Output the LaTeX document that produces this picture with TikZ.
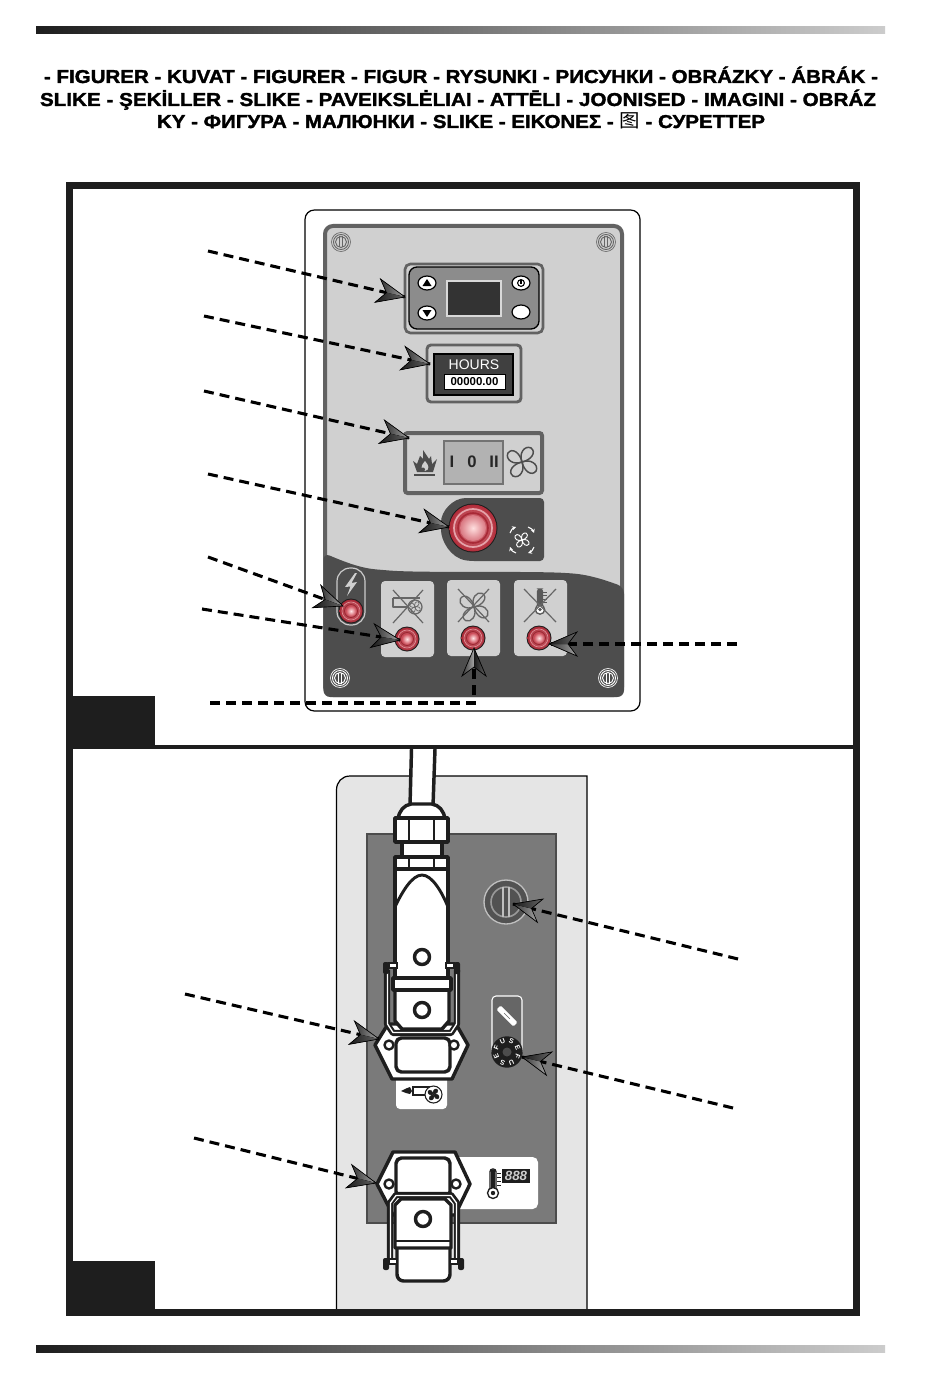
\documentclass[tikz,border=0pt]{standalone}
\usepackage{fontspec}
\usetikzlibrary{calc,arrows.meta}
\setmainfont{Liberation Sans}
\newfontfamily\hdfont{Liberation Sans}[UprightFont=* Bold,UprightFeatures={FakeBold=1.6}]
\newfontfamily\cjk{Noto Sans CJK SC}
\definecolor{frameblk}{HTML}{1E1E1E}
\definecolor{paneldark}{HTML}{4D4D4D}
\definecolor{panellight}{HTML}{D0D0D0}
\definecolor{bezel}{HTML}{626262}
\definecolor{ledred}{HTML}{C5303F}
\definecolor{plate}{HTML}{7A7A7A}
\tikzset{
  leader/.style={black,line width=2.3pt,dash pattern=on 7.5pt off 4.5pt},
  conn/.style={draw=frameblk,line width=2.6pt,fill=white,line join=round},
  icon/.style={draw=#1,line width=.9pt,line join=round},
  headpic/.pic={
    \fill[left color=black!80,right color=black!35] (0,0)--(-28,-12)--(-19,0)--cycle;
    \fill[left color=black!90,right color=black!60] (0,0)--(-28,12)--(-19,0)--cycle;
    \draw[black,line width=.5pt,solid,line join=miter] (0,0)--(-28,-12)--(-19,0)--(-28,12)--cycle;
  },
  led/.pic={
    \fill[frameblk] (0,0) circle (12.5);
    \shade[inner color=ledred!60!white,outer color=ledred!85!black] (0,0) circle (11.5);
    \draw[ledred!55!white,line width=.5pt] (0,0) circle (9);
    \draw[ledred!80!black,line width=.7pt] (0,0) circle (6.5);
    \shade[inner color=white!60!pink,outer color=ledred!90!white] (0,0) circle (5.5);
  },
  screw/.pic={
    \draw[#1,line width=.5pt,fill=none] (0,0) circle (9.5);
    \draw[#1,line width=.7pt,fill=none] (0,0) circle (7.5);
    \draw[#1,line width=.7pt,fill=none] (0,0) circle (5.5);
    \draw[#1,line width=.6pt] (-1.5,-5.5)--(-1.5,5.5) (1.5,-5.5)--(1.5,5.5);
  },
  fanicon/.pic={
    \foreach \a in {45,135,225,315}{
      \path[rotate=\a,pic actions] (0,0) .. controls (3,-7) and (11,-8) .. (13,-3)
        .. controls (14,3) and (6,4) .. (0,0);
    }
  },
  thermo/.pic={
    \draw[#1,line width=1pt,fill=white,rounded corners=2pt] (-3,-14) rectangle (3,8);
    \fill[#1] (-2,-13) rectangle (2,6);
    \draw[#1,line width=1pt,fill=white] (0,10) circle (5.5);
    \fill[#1] (0,10) circle (2.2);
    \foreach \k in {-10,-6,-2,2}{\draw[#1,line width=.7pt] (4,\k)--(8,\k);}
  },
  clip/.pic={
    \fill[frameblk,rounded corners=1.5pt] (-3,-6) rectangle (3,6);
    \draw[frameblk,fill=white,line width=.8pt] (3,-5) rectangle (11,0);
  }
}
\newcommand\lead[2]{%
  \draw[leader] (#1) -- (#2);
  \path (#1) -- (#2) pic[pos=1,sloped,allow upside down]{headpic};}
\begin{document}
\begin{tikzpicture}[x=.75pt,y=-.75pt]
\useasboundingbox (0,0) rectangle (950,1373);
\fill[white] (0,0) rectangle (950,1373);
% top / bottom bars
\shade[left color=frameblk,right color=black!20] (36,27) rectangle (885,34);
\shade[left color=frameblk,right color=black!20] (36,1345) rectangle (885,1352);
% heading
\node[anchor=base,inner sep=0pt] (h1) at (461,83) {\fontsize{14}{15}\selectfont\resizebox{625.5pt}{\height}{\hdfont - FIGURER - KUVAT - FIGURER - FIGUR - RYSUNKI - РИСУНКИ - OBRÁZKY - ÁBRÁK -}};
\node[anchor=base,inner sep=0pt] (h2) at (458,106) {\fontsize{14}{15}\selectfont\resizebox{627pt}{\height}{\hdfont SLIKE - ŞEKİLLER - SLIKE - PAVEIKSLĖLIAI - ATTĒLI - JOONISED - IMAGINI - OBRÁZ}};
\node[anchor=base,inner sep=0pt] (h3) at (461,128) {\fontsize{14}{15}\selectfont\resizebox{456pt}{\height}{\hdfont KY - ФИГУРА - МАЛЮНКИ - SLIKE - ΕΙΚΟΝΕΣ - {\cjk 图} - СУРЕТТЕР}};

% ---------- lower plate (drawn before frame) ----------
\draw[black,line width=.9pt,fill=black!10] (336.5,1312) -- (336.5,790) .. controls (336.5,782) and (342,776) .. (350,776) -- (587,776) -- (587,1312);
\draw[black!70,line width=.9pt,fill=plate] (367,834) rectangle (556,1223);

% ---------- frame ----------
\draw[frameblk,line width=5.2pt] (69.5,185.5) rectangle (856.5,1312.5);
\fill[frameblk] (66,745) rectangle (860,749);
\fill[frameblk] (73,696) rectangle (155,745);
\fill[frameblk] (73,1261) rectangle (155,1309);

% ---------- upper panel ----------
\draw[black,line width=.9pt,fill=white,rounded corners=7pt] (305,210) rectangle (640,711);
\draw[bezel,line width=3pt,fill=panellight,rounded corners=6pt] (325,226) rectangle (622,695);
\fill[paneldark,rounded corners=5pt] (323.5,553) .. controls (345,562) and (360,568) .. (383,570)
   .. controls (420,573) and (520,571) .. (567,573) .. controls (590,575) and (605,580) .. (624,587)
   -- (624,697) -- (323.5,697) -- cycle;
\pic at (341,242) {screw=black!60};
\pic at (606,242) {screw=black!60};
\pic at (340,678) {screw=white};
\pic at (608,678) {screw=white};

% thermostat
\draw[bezel,line width=2pt,fill=panellight,rounded corners=4pt] (405,264) rectangle (543,333);
\draw[black,line width=1pt,fill=black!45,rounded corners=6pt] (409,267) rectangle (539,329);
\draw[white!85!black,line width=1pt,fill=black!80] (447,281) rectangle (501,316);
\foreach \bx/\by in {427/283,427/313,521/283,521/312}{
  \draw[black,line width=.9pt,fill=white] (\bx,\by) ellipse (9 and 7);}
\fill[black] (427,279) -- (431.5,286) -- (422.5,286) -- cycle;
\fill[black] (427,317) -- (431.5,310) -- (422.5,310) -- cycle;
\draw[black,line width=.8pt] (521,283) circle (3.4);
\draw[black,line width=.9pt] (521,279.5) -- (521,284);

% hours counter
\draw[bezel,line width=2.2pt,fill=panellight,rounded corners=3pt] (427,345) rectangle (521,402);
\draw[black,line width=.8pt,fill=black!75] (434,354) rectangle (513,395);
\node[white,font=\fontsize{10.5}{12}\selectfont,inner sep=0pt] (hrs) at (474,365) {HOURS};
\node[draw=black,fill=white,line width=.5pt,inner sep=0pt,minimum width=45.5pt,minimum height=11pt,font=\fontsize{8.6}{10}\bfseries\selectfont] (cnt) at (474.5,381.5) {00000.00};

% selector switch
\draw[bezel,line width=3pt,fill=panellight,rounded corners=2pt] (405,433) rectangle (542,493);
\draw[black!55,line width=.9pt,fill=black!30] (444,441) rectangle (503,484);
\node[inner sep=0pt,font=\fontsize{12.5}{13}\bfseries\selectfont,text=black!85] (sw1) at (452,462) {I};
\node[inner sep=0pt,font=\fontsize{12.5}{13}\bfseries\selectfont,text=black!85] (sw0) at (472,462) {0};
\node[inner sep=0pt,font=\fontsize{12.5}{13}\bfseries\selectfont,text=black!85] (sw2) at (494,462) {II};
\fill[paneldark] (417,472) -- (413,461) -- (417,464) -- (420,456) -- (423,459) -- (423,450) -- (429,459) -- (431,456) -- (432,464) -- (437,459) -- (433,472) -- cycle;
\fill[panellight] (425,471) .. controls (420,470) and (421,465) .. (425,461) .. controls (429,465) and (430,470) .. (425,471);
\fill[paneldark] (423,469.5) circle (2);
\draw[paneldark,line width=1.5pt] (414,474.5) -- (435,474.5);
\pic[draw=paneldark,line width=1.1pt,fill=none,scale=1.25] at (522,462) {fanicon};

% emergency stop
\fill[paneldark,rounded corners=3pt] (544,498) -- (544,561) -- (500,561) -- (470,561)
   .. controls (450,558) and (441,540) .. (441,526) .. controls (441,512) and (452,498) .. (470,498) -- cycle;
\fill[frameblk] (473,528) circle (24.5);
\shade[inner color=ledred!55!white,outer color=ledred!90!black] (473,528) circle (23.5);
\draw[white!55!ledred,line width=1.3pt] (473,528) circle (19);
\draw[ledred!85!black,line width=1.2pt] (473,528) circle (15);
\shade[inner color=white!50!pink,outer color=ledred!65!white] (473,528) circle (13);
\pic[draw=white,line width=.7pt,fill=none,scale=.6] at (522,540) {fanicon};
\draw[white,line width=.8pt,-{Stealth[length=3pt,width=3pt]}] (510,533) .. controls (511,530) and (513,528) .. (516,527);
\draw[white,line width=.8pt,-{Stealth[length=3pt,width=3pt]}] (528,527) .. controls (531,528) and (533,530) .. (534,533);
\draw[white,line width=.8pt,-{Stealth[length=3pt,width=3pt]}] (534,547) .. controls (533,550) and (531,552) .. (528,553);
\draw[white,line width=.8pt,-{Stealth[length=3pt,width=3pt]}] (516,553) .. controls (513,552) and (511,550) .. (510,547);

% power pill
\draw[black!20,line width=.9pt,fill=paneldark,rounded corners=10pt] (337,568) rectangle (365,625);
\fill[panellight] (355,573) -- (345,587) -- (350.5,586.5) -- (347,596) -- (357,582) -- (351.5,583) -- (357,573) -- cycle;
\pic at (351,611) {led};

% indicator cells
\foreach \cx/\cy in {381/581,447/580,514/580}{
  \fill[panellight,rounded corners=3pt] (\cx,\cy) rectangle ++(53,76);}
\draw[icon=black!60] (393,598) -- (393,607) -- (408,607) (393,598) -- (420,598);
\draw[icon=black!60] (415,607) circle (7);
\pic[draw=black!60,line width=.5pt,fill=none,scale=.45] at (415,607) {fanicon};
\draw[icon=black!60] (393,623) -- (423,590) (393,590) -- (423,623);
\pic[draw=black!60,line width=1pt,fill=none,scale=1.2] at (474,607) {fanicon};
\draw[icon=black!60] (458,589) -- (489,622) (458,622) -- (489,589);
\pic[scale=.85] at (540,601) {thermo=black!65};
\draw[icon=black!60] (524,589) -- (556,622) (524,622) -- (556,589);
\pic at (407,639) {led};
\pic at (473,638) {led};
\pic at (539,638) {led};

% ---------- lower plate items ----------
% big screw
\draw[black!25,line width=1pt,fill=black!68] (506,902) circle (22);
\draw[black!40,line width=1.2pt] (506,902) circle (15);
\draw[black!25,line width=1pt] (503,887) -- (503,917) (509,887) -- (509,917);
% fuse holder
\draw[white,line width=.8pt,fill=black!60,rounded corners=3pt] (492,1052) -- (492,996) -- (522,996) -- (522,1052);
\fill[white,rotate around={-45:(507,1016)},rounded corners=1pt] (495,1013) rectangle (519,1019);
\draw[black!60,line width=.5pt,rotate around={-45:(507,1016)}] (503,1016) -- (511,1016);
\fill[frameblk] (507,1052) circle (15.7);
\fill[black!70] (507,1052) circle (4.5);
\foreach \lt/\ang in {F/157.5,U/112.5,S/67.5,E/22.5,F/-22.5,U/-67.5,S/-112.5,E/-157.5}{
  \node[white,inner sep=0pt,rotate=\ang-90,font=\fontsize{5.2}{6}\bfseries\selectfont] at ($(507,1052)+(\ang:11.5 and -11.5)$) {\lt};}

% white labels
\fill[white,rounded corners=3pt] (396,1075) rectangle (447,1109);
\fill[white,rounded corners=4pt] (440,1157) rectangle (538,1209);
% blower icon
\draw[frameblk,line width=.8pt,fill=white] (413,1087) rectangle (429,1095);
\draw[frameblk,line width=.8pt,fill=white] (433.5,1094.5) circle (8.5);
\pic[draw=frameblk,fill=frameblk,line width=.3pt,scale=.48] at (433.5,1094.5) {fanicon};
\fill[frameblk] (401,1091) -- (406,1088.5) -- (410,1087) -- (412,1091) -- (410,1094) -- (406,1093) -- cycle;
% digital thermometer icon
\pic at (493,1183) {thermo=frameblk};
\fill[frameblk] (502,1169) rectangle (530,1183);
\node[text=black!20,inner sep=0pt,font=\fontsize{10}{10}\bfseries\itshape\selectfont] (dig) at (516,1176) {888};

% ---------- upper connector ----------
\draw[conn] (411.5,749) -- (410,806) -- (433,806) -- (435,749);
\draw[conn] (398,819) .. controls (399,811) and (404,805) .. (411,804) -- (432,804) .. controls (439,805) and (444,811) .. (445,819) -- cycle;
\draw[conn] (402,842) rectangle (442,857);
\draw[conn] (395,818) rectangle (448,842);
\draw[frameblk,line width=2.2pt] (409,818) -- (409,842) (434,818) -- (434,842);
\draw[conn] (395,857) rectangle (448,869);
\draw[frameblk,line width=2.2pt] (409,857) -- (409,869) (434,857) -- (434,869);
% flange
\draw[conn] (375,1045) -- (388,1024) -- (456,1024) -- (468,1045) -- (452,1079) -- (392,1079) -- cycle;
\draw[conn,rounded corners=4pt] (396,1038) rectangle (450,1072);
\draw[conn,line width=1.8pt] (389,1045) circle (4.5);
\draw[conn,line width=1.8pt] (454,1045) circle (4.5);
% lever
\draw[frameblk,line width=4.6pt,line join=round] (387,970) -- (387,1024) -- (393,1033) -- (451,1033) -- (457,1024) -- (457,970);
\draw[white,line width=1pt,line join=round] (387.5,970) -- (387.5,1024) -- (393,1032.5) -- (451,1032.5) -- (456.5,1024) -- (456.5,970);
% body
\draw[conn] (395,869) -- (448,869) -- (448,978) -- (395,978) -- cycle;
\draw[frameblk,line width=2.2pt] (395,907) .. controls (402,892) and (412,875) .. (422,875) .. controls (432,875) and (442,892) .. (448,907);
\draw[conn] (422,957) circle (7.5);
\draw[conn] (395,990) -- (395,1021) -- (402,1029) -- (442,1029) -- (449,1021) -- (449,990) -- cycle;
\draw[conn] (393,978) rectangle (451,990);
\draw[conn] (422,1010) circle (7.5);
\pic at (386,968) {clip};
\pic[xscale=-1] at (457,968) {clip};

% ---------- lower connector ----------
\draw[conn] (377,1184) -- (393,1152) -- (455,1152) -- (470,1184) -- (455,1215) -- (393,1215) -- cycle;
\draw[conn,rounded corners=4pt] (396,1158) rectangle (450,1197);
\draw[conn,line width=1.8pt] (389,1184) circle (4.5);
\draw[conn,line width=1.8pt] (456,1184) circle (4.5);
\draw[conn,rounded corners=5pt] (397,1235) rectangle (450,1281);
\draw[frameblk,line width=4.6pt,line join=round] (390,1260) -- (390,1203) -- (396,1195) -- (451,1195) -- (457,1203) -- (457,1260);
\draw[white,line width=1pt,line join=round] (390.5,1260) -- (390.5,1203) -- (396,1195.5) -- (451,1195.5) -- (456.5,1203) -- (456.5,1260);
\draw[conn] (395,1248) -- (395,1205) -- (401,1199) -- (445,1199) -- (451,1205) -- (451,1248) -- cycle;
\draw[frameblk,line width=2pt] (395,1241) -- (451,1241);
\draw[conn] (423,1219) circle (7.5);
\pic at (386,1264) {clip};
\pic[xscale=-1] at (461,1264) {clip};

% ---------- leaders ----------
\coordinate (a1s) at (208,251);  \coordinate (a1t) at (405,297);
\coordinate (a2s) at (204,316);  \coordinate (a2t) at (430,364);
\coordinate (a3s) at (204,391);  \coordinate (a3t) at (409,438);
\coordinate (a4s) at (208,474);  \coordinate (a4t) at (449,527);
\coordinate (a5s) at (208,557);  \coordinate (a5t) at (343,606);
\coordinate (a6s) at (202,609);  \coordinate (a6t) at (400,640);
\coordinate (a7s) at (210,703);  \coordinate (a7m) at (474,703); \coordinate (a7t) at (474,648);
\coordinate (a8s) at (737,644);  \coordinate (a8t) at (549,644);
\coordinate (a9s) at (738,959);  \coordinate (a9t) at (513,904);
\coordinate (a10s) at (733,1108); \coordinate (a10t) at (522,1057);
\coordinate (a11s) at (185,994);  \coordinate (a11t) at (379,1039);
\coordinate (a12s) at (194,1138); \coordinate (a12t) at (376,1183);
\lead{a1s}{a1t}
\lead{a2s}{a2t}
\lead{a3s}{a3t}
\lead{a4s}{a4t}
\lead{a5s}{a5t}
\lead{a6s}{a6t}
\draw[leader] (a7s) -- (a7m) -- (a7t);
\path (a7m) -- (a7t) pic[pos=1,sloped,allow upside down]{headpic};
\lead{a8s}{a8t}
\lead{a9s}{a9t}
\lead{a10s}{a10t}
\lead{a11s}{a11t}
\lead{a12s}{a12t}
\end{tikzpicture}
\end{document}
